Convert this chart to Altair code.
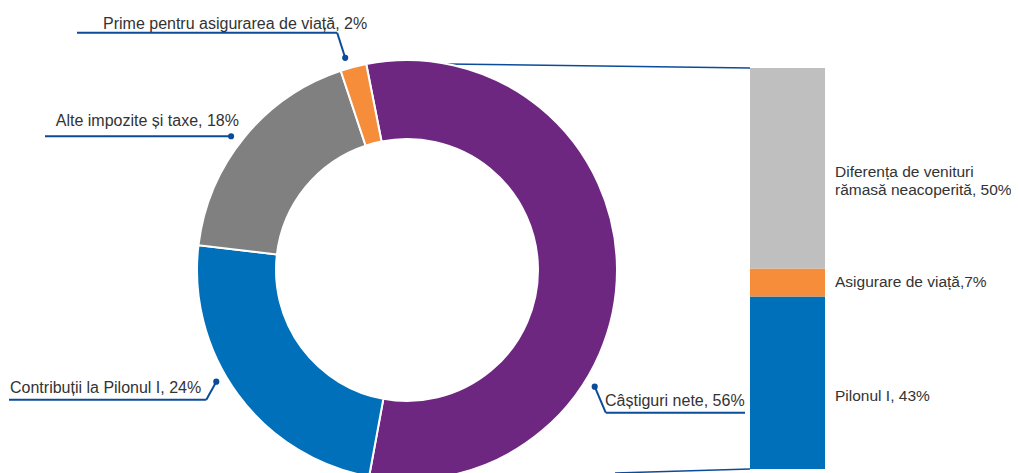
import math
import altair as alt
import pandas as pd

# ---------------- data ----------------
donut_labels = ["Câștiguri nete", "Contribuții la Pilonul I",
                "Alte impozite și taxe", "Prime pentru asigurarea de viață"]
donut_values = [56, 24, 18, 2]

bar_labels = ["Pilonul I", "Asigurare de viață",
              "Diferența de venituri rămasă neacoperită"]
bar_values = [43, 7, 50]
bar_label_lines = [["Pilonul I"], ["Asigurare de viață"],
                   ["Diferența de venituri", "rămasă neacoperită"]]
bar_label_sep = [", ", ",", ", "]

# ---------------- styles / layout (image pixel coordinates) ----------------
W, H, OFF = 1003, 465, 8
donut_colors = ["#6E2780", "#0070BA", "#808080", "#F68D3A"]
bar_colors = ["#0070BA", "#F68D3A", "#BFBFBF"]
LINE = "#0B4C99"
TEXT = "#333333"
FONT = "Liberation Sans"
FS = 16
FS_BAR = 15.5

CX, CY = 407, 270
R_OUT, R_IN = 210, 131
START_DEG = -11.2
DOT_R = 221
anchor_frac = [0.66, 0.57, 0.47, 0.30]
elbow_off = [(11, 26), (-10, 18), (0, 0), (-8, -25)]
end_x = [745, 9, 45, 77]
text_pos = [(605, 406, "left"), (10, 393, "left"), (239, 126, "right"), (103, 29, "left")]

BAR_X0, BAR_X1, BAR_TOP, BAR_BOTTOM = 750, 825, 68, 469
bar_text_pos = [(835, 401), (835, 287), (835, 177)]
TOP_CONN_START = (447, 64)
BOT_CONN_START = (615, 473)

# ---------------- tables ----------------
donut_df = pd.DataFrame({"cat": donut_labels, "value": donut_values,
                         "idx": list(range(len(donut_labels)))})
bar_df = pd.DataFrame({"cat": bar_labels, "value": bar_values,
                       "idx": list(range(len(bar_labels)))})
bar_df["end"] = bar_df["value"].cumsum()
bar_df["start"] = bar_df["end"] - bar_df["value"]

total = sum(donut_values)
segs, dots, dtexts = [], [], []
cum = 0
for i, v in enumerate(donut_values):
    a0 = START_DEG + 360 * cum / total
    a1 = START_DEG + 360 * (cum + v) / total
    cum += v
    th = math.radians(a0 + anchor_frac[i] * (a1 - a0))
    dx, dy = CX + DOT_R * math.sin(th), CY - DOT_R * math.cos(th)
    ex, ey = dx + elbow_off[i][0], dy + elbow_off[i][1]
    dots.append({"x": dx, "y": dy})
    segs.append({"x": dx, "y": dy, "x2": ex, "y2": ey, "w": 2})
    segs.append({"x": ex, "y": ey, "x2": end_x[i], "y2": ey, "w": 2})
    tx, ty, al = text_pos[i]
    dtexts.append({"x": tx, "y": ty, "al": al,
                   "t": f"{donut_labels[i]}, {v}%"})

segs.append({"x": TOP_CONN_START[0], "y": TOP_CONN_START[1], "x2": BAR_X0, "y2": BAR_TOP, "w": 1.5})
segs.append({"x": BOT_CONN_START[0], "y": BOT_CONN_START[1], "x2": BAR_X0, "y2": BAR_BOTTOM, "w": 1.5})

btexts = []
for i, v in enumerate(bar_values):
    lines = list(bar_label_lines[i])
    lines[-1] = f"{lines[-1]}{bar_label_sep[i]}{v}%"
    btexts.append({"x": bar_text_pos[i][0], "y": bar_text_pos[i][1], "al": "left",
                   "t": lines if len(lines) > 1 else lines[0]})

seg_df = pd.DataFrame(segs)
dot_df = pd.DataFrame(dots)
dtext_df = pd.DataFrame(dtexts)

px = alt.Scale(domain=[OFF, OFF + W], range=[0, W], nice=False, zero=False)
py = alt.Scale(domain=[OFF, OFF + H], range=[0, H], nice=False, zero=False)
color_scale = alt.Scale(domain=donut_labels + bar_labels, range=donut_colors + bar_colors)

start = math.radians(START_DEG)

arc = alt.Chart(donut_df).mark_arc(
    innerRadius=R_IN, outerRadius=R_OUT, stroke="white", strokeWidth=2
).encode(
    theta=alt.Theta("value:Q", stack=True,
                    scale=alt.Scale(range=[start, start + 2 * math.pi])),
    color=alt.Color("cat:N", scale=color_scale, legend=None),
    order=alt.Order("idx:Q", sort="ascending"),
    x=alt.value(CX - OFF), y=alt.value(CY - OFF),
)

bar = alt.Chart(bar_df).mark_bar().encode(
    x=alt.value(BAR_X0 - OFF), x2=alt.value(BAR_X1 - OFF),
    y=alt.Y("start:Q", axis=None,
            scale=alt.Scale(domain=[0, 100], range=[BAR_BOTTOM - OFF, BAR_TOP - OFF],
                            nice=False, zero=False)),
    y2="end:Q",
    color=alt.Color("cat:N", scale=color_scale, legend=None),
)

rules = alt.Chart(seg_df).mark_rule(color=LINE).encode(
    x=alt.X("x:Q", scale=px, axis=None), y=alt.Y("y:Q", scale=py, axis=None),
    x2="x2:Q", y2="y2:Q",
    strokeWidth=alt.StrokeWidth("w:Q", scale=None),
)

pts = alt.Chart(dot_df).mark_circle(color=LINE, opacity=1, size=38).encode(
    x=alt.X("x:Q", scale=px, axis=None), y=alt.Y("y:Q", scale=py, axis=None),
)

def text_layer(df, align, fs):
    return alt.Chart(df).mark_text(
        align=align, baseline="alphabetic", font=FONT, fontSize=fs,
        color=TEXT, lineHeight=18
    ).encode(
        x=alt.X("x:Q", scale=px, axis=None), y=alt.Y("y:Q", scale=py, axis=None),
        text="t",
    )

dl_left = text_layer(dtext_df[dtext_df["al"] == "left"], "left", FS)
dl_right = text_layer(dtext_df[dtext_df["al"] == "right"], "right", FS)
bl = text_layer(pd.DataFrame(btexts), "left", FS_BAR)

chart = alt.layer(rules, arc, bar, pts, dl_left, dl_right, bl).resolve_scale(
    x="independent", y="independent"
).properties(
    width=W, height=H, padding=0, background="white",
    autosize=alt.AutoSizeParams(type="none"),
).configure_view(stroke="transparent", strokeWidth=0)

chart.save("out.html", embed_options={"renderer": "svg", "actions": False})
